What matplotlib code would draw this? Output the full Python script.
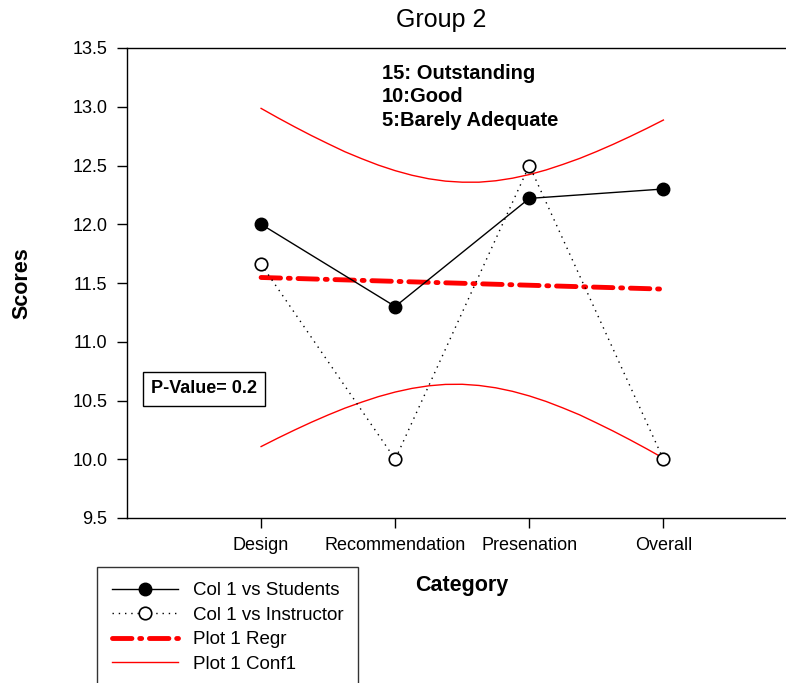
import matplotlib
matplotlib.use("Agg")
import matplotlib.pyplot as plt

plt.rcParams['font.family'] = ['Liberation Sans', 'DejaVu Sans']

# Scores
categories = ["Design", "Recommendation", "Presenation", "Overall"]
cat_pos = [1, 2, 3, 4]
students = [12.0, 11.3, 12.22, 12.3]
instructor = [11.66, 10.0, 12.5, 10.0]
regr = [11.547, 11.514, 11.481, 11.448]

# confidence band, read at eighth steps between the first and last category
conf_x = [1.0, 1.125, 1.25, 1.375, 1.5, 1.625, 1.75, 1.875, 2.0, 2.125, 2.25,
          2.375, 2.5, 2.625, 2.75, 2.875, 3.0, 3.125, 3.25, 3.375, 3.5,
          3.625, 3.75, 3.875, 4.0]
conf_upper = [12.986, 12.906, 12.829, 12.755, 12.685, 12.617, 12.558, 12.503,
              12.456, 12.417, 12.387, 12.367, 12.358, 12.358, 12.370, 12.392,
              12.423, 12.462, 12.509, 12.560, 12.618, 12.680, 12.746, 12.815,
              12.887]
conf_lower = [10.108, 10.180, 10.249, 10.315, 10.377, 10.435, 10.486, 10.533,
              10.572, 10.603, 10.625, 10.637, 10.638, 10.628, 10.608, 10.578,
              10.539, 10.492, 10.437, 10.378, 10.310, 10.240, 10.166, 10.089,
              10.009]

yticks = [9.5, 10.0, 10.5, 11.0, 11.5, 12.0, 12.5, 13.0, 13.5]

fig = plt.figure(figsize=(7.86, 6.83), dpi=100)
ax = fig.add_axes([127 / 786, 165 / 683, 670.5 / 786, 470 / 683])

ax.plot(cat_pos, students, color="black", lw=1, marker="o", ms=9,
        mfc="black", mec="black", label="Col 1 vs Students", zorder=4)
ax.plot(cat_pos, instructor, color="black", lw=1, ls=(0, (1, 3.5)),
        marker="o", ms=9, mfc="white", mec="black", mew=1.2,
        label="Col 1 vs Instructor", zorder=4)
ax.plot(cat_pos, regr, color="red", lw=3.5, ls=(0, (4, 1.6, 0.4, 1.6)),
        dash_capstyle="round", label="Plot 1 Regr", zorder=3)
ax.plot(conf_x, conf_upper, color="red", lw=1, label="Plot 1 Conf1", zorder=3)
ax.plot(conf_x, conf_lower, color="red", lw=1, zorder=3)

ax.set_xlim(0, 5)
ax.set_ylim(9.5, 13.5)
ax.set_xticks(cat_pos)
ax.set_xticklabels(categories)
ax.set_yticks(yticks)
ax.set_yticklabels([f"{v:.1f}" for v in yticks])
ax.tick_params(direction="out", length=7, width=1, labelsize=13, pad=7)

for side in ["left", "bottom", "top"]:
    ax.spines[side].set_linewidth(1)
    ax.spines[side].set_color("black")
ax.spines["right"].set_visible(False)

ax.set_xlabel("Category", fontsize=15.5, fontweight="bold")
ax.xaxis.set_label_coords(0.5, -0.143)
ax.xaxis.label.set_verticalalignment("center")
ax.set_ylabel("Scores", fontsize=15.5, fontweight="bold")
ax.yaxis.set_label_coords(-0.156, 0.5)
ax.yaxis.label.set_verticalalignment("center")

fig.text(441 / 786, 1 - 20 / 683, "Group 2", fontsize=18, ha="center", va="center")

ax.text(0.3803, 0.966, "15: Outstanding\n10:Good\n5:Barely Adequate",
        transform=ax.transAxes, fontsize=14.5, fontweight="bold",
        ha="left", va="top", linespacing=1.3)

ax.text(0.1148, 0.2745, "P-Value= 0.2", transform=ax.transAxes,
        fontsize=13, fontweight="bold", ha="center", va="center",
        bbox=dict(boxstyle="square,pad=0.45", fc="white", ec="black", lw=1))

leg = fig.legend(loc="upper left", bbox_to_anchor=(97 / 786, 1 - 567 / 683),
                 borderaxespad=0, fontsize=13.5, frameon=True, fancybox=False,
                 edgecolor="black", handlelength=3.5, handletextpad=0.8,
                 borderpad=0.8, labelspacing=0.4, numpoints=1)
leg.get_frame().set_linewidth(1)

fig.savefig("out.png", dpi=100)
